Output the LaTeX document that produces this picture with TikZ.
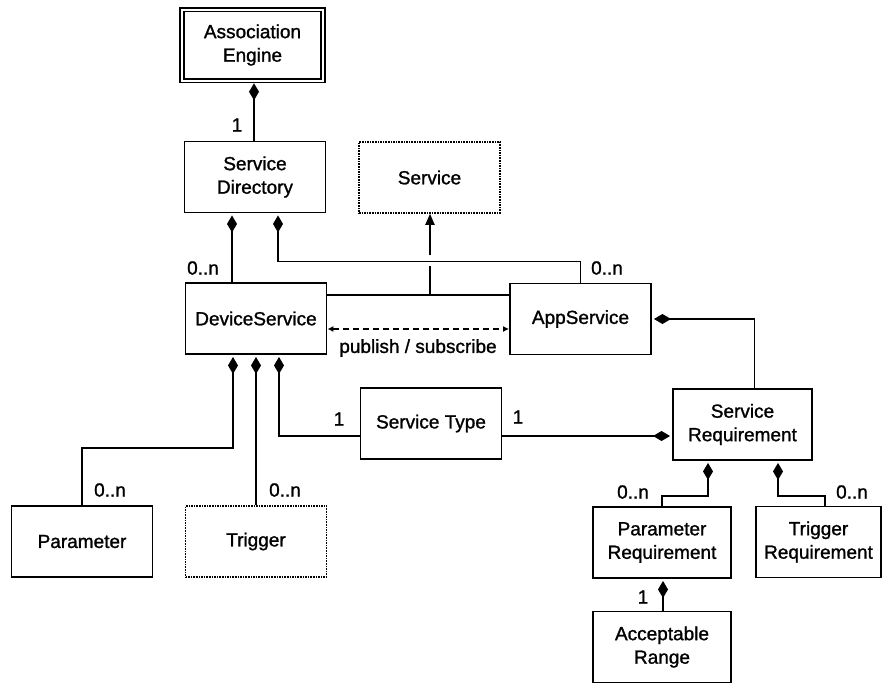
\documentclass[tikz,border=0pt]{standalone}
\usepackage{fontspec}
\setmainfont{Liberation Sans}
\newfontfamily\diaface{Liberation Sans}[FakeBold=1.2]
\usetikzlibrary{arrows.meta}
\newcommand{\diafont}{\diaface\fontsize{19}{23.5}\selectfont}
\begin{document}
\begin{tikzpicture}[x=1pt,y=-1pt,
  box/.style={draw, line width=1.9pt, minimum width=141pt, minimum height=71pt,
    inner sep=0pt, align=center, font=\diafont},
  dotbox/.style={dash pattern=on 1.6pt off 1pt, line width=1.5pt},
  lbl/.style={inner sep=0pt, font=\diafont},
  conn/.style={line width=1.9pt},
  compstart/.style={conn, {Diamond[length=17pt,width=10pt]}-, shorten <=2pt},
  compend/.style={conn, -{Diamond[length=17pt,width=10pt]}, shorten >=2pt},
  gen/.style={conn, -{Triangle[length=11pt,width=9pt]}},
  pubsub/.style={line width=1.4pt, dash pattern=on 6pt off 4pt,
    {Latex[length=6pt,width=6pt]}-{Latex[length=6pt,width=6pt]}}]

% canvas
\fill[white] (0,0) rectangle (883,683);
\useasboundingbox (0,0) rectangle (883,683);

% classes
\node[box, double, double distance=2pt, line width=1.6pt] (ae) at (252.5,45) {Association\\Engine};
\node[box] (sd) at (255,177) {Service\\Directory};
\node[box, dotbox] (svc) at (429.5,177.5) {Service};
\node[box] (ds) at (256,318.5) {DeviceService};
\node[box] (as) at (580.5,319) {AppService};
\node[box] (st) at (431,423.5) {Service Type};
\node[box, minimum width=139pt] (sr) at (742.5,424.5) {Service\\Requirement};
\node[box] (par) at (82,541.5) {Parameter};
\node[box, dotbox] (trg) at (256,541.5) {Trigger};
\node[box, minimum width=138pt] (pr) at (662,542.5) {Parameter\\Requirement};
\node[box, minimum width=125pt] (tr) at (818.5,542) {Trigger\\Requirement};
\node[box, minimum width=138pt] (ar) at (662,647) {Acceptable\\Range};

% composition: engine owns the directory
\draw[compstart] ([xshift=1.5pt]ae.south) -- ([xshift=1.5pt]ae.south |- sd.north);

% directory owns device and app services
\draw[compstart] ([xshift=-23pt]sd.south) -- ([xshift=-23pt]sd.south |- ds.north);
\draw[compstart] ([xshift=23pt]sd.south) -- ++(0,48) coordinate (k) -| (as.north);

% generalisation to Service, hopping over the directory link
\coordinate (j) at (430,295);
\draw[conn] (ds.east |- j) -- (as.west |- j);
\draw[conn] (j) -- ([yshift=-5pt]j |- k);
\draw[gen] ([yshift=6pt]j |- k) -- (j |- svc.south);

% publish / subscribe
\draw[pubsub] ([yshift=-10.5pt]ds.east) -- ([yshift=-10.5pt]ds.east -| as.west);
\node[lbl] (ps) at (418,348) {publish / subscribe};

% device service parts
\draw[compstart] ([xshift=-23pt]ds.south) -- ++(0,93) -| (par.north);
\draw[compstart] (ds.south) -- (trg.north);
\draw[compstart] ([xshift=23pt]ds.south) |- ([yshift=-12.5pt]st.west);

% service type to requirement
\draw[compend] ([yshift=-12.5pt]st.east) -- ([yshift=-12.5pt]st.east -| sr.west);

% app service owns the requirement
\draw[compstart] (as.east) -| ([xshift=12pt]sr.north);

% requirement parts
\draw[compstart] ([xshift=-34.5pt]sr.south) -- ++(0,35) -| (pr.north);
\draw[compstart] ([xshift=35.5pt]sr.south) -- ++(0,35) -| ([xshift=6.5pt]tr.north);
\draw[compstart] ([xshift=1pt]pr.south) -- ([xshift=1pt]pr.south |- ar.north);

% multiplicities
\node[lbl] (m1) at (237,125) {1};
\node[lbl] (m2) at (203,268) {0..n};
\node[lbl] (m3) at (607,268) {0..n};
\node[lbl] (m4) at (110,490) {0..n};
\node[lbl] (m5) at (285,490) {0..n};
\node[lbl] (m6) at (339,419) {1};
\node[lbl] (m7) at (518,417) {1};
\node[lbl] (m8) at (633,492) {0..n};
\node[lbl] (m9) at (852,492) {0..n};
\node[lbl] (m10) at (643,597) {1};
\end{tikzpicture}
\end{document}
